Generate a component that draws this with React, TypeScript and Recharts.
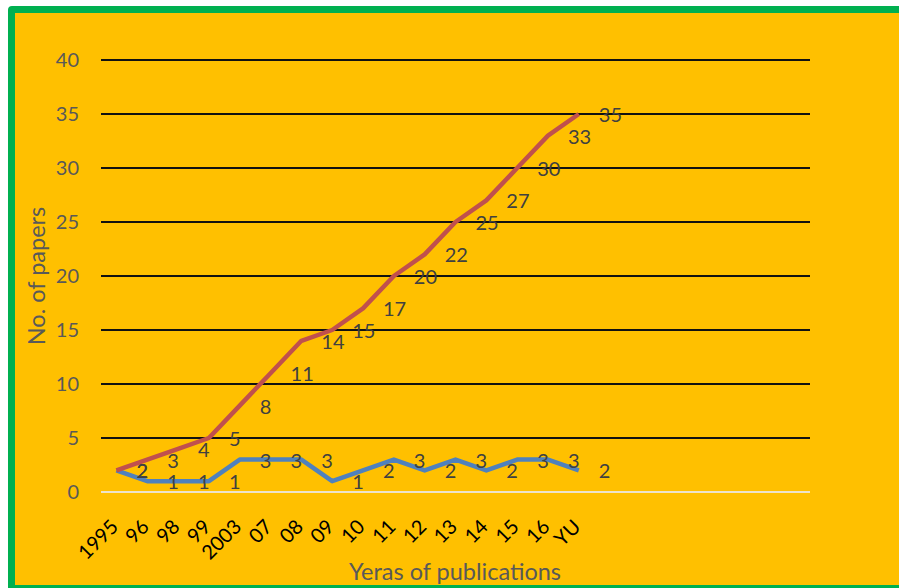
import React from 'react';
import { LineChart, Line, XAxis, YAxis, CartesianGrid, LabelList } from 'recharts';

const categories = ['1995', '96', '98', '99', '2003', '07', '08', '09', '10', '11', '12', '13', '14', '15', '16', 'YU'];
const cumulativePapers = [2, 3, 4, 5, 8, 11, 14, 15, 17, 20, 22, 25, 27, 30, 33, 35];
const annualPapers = [2, 1, 1, 1, 3, 3, 3, 1, 2, 3, 2, 3, 2, 3, 3, 2];
const yTicks = [0, 5, 10, 15, 20, 25, 30, 35, 40];
const xSlots = 23;

const data = categories.map((name, idx) => ({
  idx,
  name,
  cumulative: cumulativePapers[idx],
  annual: annualPapers[idx],
}));

const FONT = 'Lato, "Open Sans", "Noto Sans", sans-serif';

const XTick = (props: any) => {
  const { x, y, payload } = props;
  const ax = x + 3;
  const ay = y + 36;
  return (
    <text
      x={ax}
      y={ay}
      transform={`rotate(-45 ${ax} ${ay})`}
      textAnchor="end"
      fill="#000000"
      fontSize={20}
      fontFamily={FONT}
    >
      {categories[payload.value]}
    </text>
  );
};

const DataLabel = (props: any) => {
  const { x, y, value } = props;
  return (
    <text x={x + 20} y={y} dominantBaseline="central" textAnchor="start" fill="#404040" fontSize={20} fontFamily={FONT}>
      {value}
    </text>
  );
};

export default function App() {
  return (
    <div style={{ position: 'fixed', left: 0, top: 0, width: 899, height: 588, background: '#ffffff', overflow: 'hidden' }}>
      <div
        style={{
          position: 'absolute',
          left: 8,
          top: 6,
          width: 910,
          height: 586,
          boxSizing: 'border-box',
          border: '7px solid #00B050',
          borderRadius: 4,
          background: '#FFC000',
        }}
      />
      <div style={{ position: 'absolute', left: 0, top: 0 }}>
        <LineChart width={899} height={588} data={data} margin={{ top: 60, right: 89, bottom: 66, left: 41 }}>
          <CartesianGrid vertical={false} stroke="#111111" strokeWidth={2} />
          <XAxis
            type="number"
            dataKey="idx"
            height={30}
            domain={[-0.5, xSlots - 0.5]}
            ticks={categories.map((_, i) => i)}
            tick={<XTick />}
            tickLine={false}
            tickSize={0}
            tickMargin={0}
            interval={0}
            axisLine={{ stroke: '#EDE3CB', strokeWidth: 2 }}
            allowDataOverflow
            label={(p: any) => (
              <text x={455} y={571} textAnchor="middle" dominantBaseline="central" fill="#595959" fontSize={23.5} fontFamily={FONT}>
                Yeras of publications
              </text>
            )}
          />
          <YAxis
            width={60}
            domain={[0, 40]}
            ticks={yTicks}
            axisLine={false}
            tickLine={false}
            tickSize={0}
            tickMargin={22}
            interval={0}
            tick={{ fill: '#595959', fontSize: 20, fontFamily: FONT }}
            label={(p: any) => (
              <text
                x={36}
                y={276}
                transform="rotate(-90 36 276)"
                textAnchor="middle"
                dominantBaseline="central"
                fill="#595959"
                fontSize={23.5}
                fontFamily={FONT}
              >
                No. of papers
              </text>
            )}
          />
          <Line
            type="linear"
            dataKey="annual"
            stroke="#4F81BD"
            strokeWidth={4.5}
            dot={false}
            isAnimationActive={false}
            strokeLinejoin="round"
          >
            <LabelList dataKey="annual" content={<DataLabel />} />
          </Line>
          <Line
            type="linear"
            dataKey="cumulative"
            stroke="#C0504D"
            strokeWidth={4.5}
            dot={false}
            isAnimationActive={false}
            strokeLinejoin="round"
          >
            <LabelList dataKey="cumulative" content={<DataLabel />} />
          </Line>
        </LineChart>
      </div>
    </div>
  );
}
